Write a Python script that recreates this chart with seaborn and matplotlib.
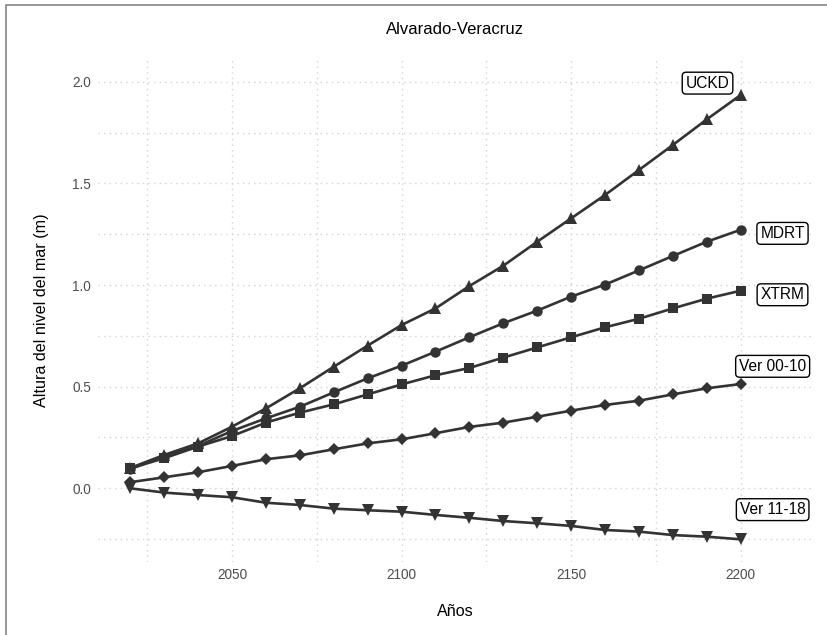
import numpy as np
import pandas as pd
import matplotlib
matplotlib.use("Agg")
import matplotlib.pyplot as plt
from matplotlib.patches import Rectangle
import seaborn as sns

# Sea-level projections for Alvarado-Veracruz (m)
anios = list(range(2020, 2201, 10))

uckd = [0.10, 0.164, 0.221, 0.303, 0.393, 0.492, 0.598, 0.702, 0.803, 0.885,
        0.995, 1.095, 1.213, 1.328, 1.443, 1.566, 1.689, 1.815, 1.935]
mdrt = [0.095, 0.156, 0.208, 0.282, 0.344, 0.401, 0.472, 0.541, 0.603, 0.672,
        0.743, 0.812, 0.874, 0.943, 1.002, 1.072, 1.143, 1.213, 1.272]
xtrm = [0.098, 0.148, 0.205, 0.257, 0.323, 0.372, 0.413, 0.462, 0.511, 0.556,
        0.592, 0.643, 0.693, 0.743, 0.792, 0.834, 0.885, 0.933, 0.972]
ver_00_10 = [0.03, 0.054, 0.079, 0.110, 0.143, 0.162, 0.192, 0.221, 0.241, 0.271,
             0.302, 0.323, 0.352, 0.382, 0.410, 0.431, 0.462, 0.492, 0.513]
ver_11_18 = [0.0, -0.021, -0.033, -0.044, -0.071, -0.082, -0.100, -0.108, -0.115,
             -0.131, -0.145, -0.161, -0.172, -0.185, -0.205, -0.213, -0.230,
             -0.238, -0.251]

escenarios = ["UCKD", "MDRT", "XTRM", "Ver 00-10", "Ver 11-18"]
series = [uckd, mdrt, xtrm, ver_00_10, ver_11_18]

x_ticks = [2050, 2100, 2150, 2200]
y_ticks = [0.0, 0.5, 1.0, 1.5, 2.0]

# marker style and size for each scenario
estilos = {
    "UCKD": ("^", 9.0),
    "MDRT": ("o", 7.5),
    "XTRM": ("s", 6.8),
    "Ver 00-10": ("D", 6.5),
    "Ver 11-18": ("v", 9.0),
}
# where each scenario's name box sits (data coords)
etiqueta_pos = {
    "UCKD": (2190.2, 1.993),
    "MDRT": (2212.3, 1.254),
    "XTRM": (2212.3, 0.952),
    "Ver 00-10": (2209.4, 0.600),
    "Ver 11-18": (2209.4, -0.105),
}

df = pd.DataFrame({
    "anio": np.tile(anios, len(escenarios)),
    "altura": np.concatenate(series),
    "escenario": np.repeat(escenarios, len(anios)),
})

sns.set_theme(style="white")
plt.rcParams["font.family"] = ["Liberation Sans", "DejaVu Sans"]

W, H = 827, 635
fig = plt.figure(figsize=(W / 100, H / 100), dpi=100)
fig.patch.set_facecolor("white")
left, right, top, bottom = 98, 812, 58, 562
ax = fig.add_axes([left / W, (H - bottom) / H, (right - left) / W, (bottom - top) / H])

color = "#333333"
for esc in escenarios:
    m, ms = estilos[esc]
    sns.lineplot(data=df[df["escenario"] == esc], x="anio", y="altura",
                 color=color, linewidth=1.9, marker=m, markersize=ms,
                 markeredgewidth=0, markerfacecolor=color, ax=ax,
                 legend=False, errorbar=None, zorder=3)

for esc in escenarios:
    lx, ly = etiqueta_pos[esc]
    ax.text(lx, ly, esc, ha="center", va="center", fontsize=11.2, color="black",
            zorder=5,
            bbox=dict(boxstyle="round,pad=0.22,rounding_size=0.25", fc="white",
                      ec="black", lw=1.0))

ax.set_xlim(2010.5, 2221)
ax.set_ylim(-0.3625, 2.1166)
ax.set_xticks(x_ticks)
ax.set_xticks([2025, 2075, 2125, 2175], minor=True)
ax.set_yticks(y_ticks)
ax.set_yticks([-0.25, 0.25, 0.75, 1.25, 1.75], minor=True)
ax.set_yticklabels([f"{v:.1f}" for v in y_ticks])
ax.set_xticklabels([str(v) for v in x_ticks])

grid_kw = dict(color="#D2D2D2", linewidth=1.0, linestyle=(0, (1, 3)))
ax.grid(True, which="major", **grid_kw)
ax.grid(True, which="minor", **grid_kw)
ax.set_axisbelow(True)
for s in ax.spines.values():
    s.set_visible(False)
ax.tick_params(axis="both", which="both", length=0, labelsize=9.8,
               labelcolor="#4D4D4D")
ax.tick_params(axis="x", pad=4)
ax.tick_params(axis="y", pad=5)

ax.set_xlabel("Años", fontsize=11.6, color="black", labelpad=16)
ax.set_ylabel("Altura del nivel del mar (m)", fontsize=11.6, color="black", labelpad=17)
ax.set_title("Alvarado-Veracruz", fontsize=12, color="black", pad=17)

# outer frame of the figure
fig.add_artist(Rectangle((5.5 / W, -0.5), 2.0, (H - 5) / H + 0.5,
                         transform=fig.transFigure, fill=False,
                         ec="#7A7A7A", lw=1.1))

fig.savefig("out.png", dpi=100)
